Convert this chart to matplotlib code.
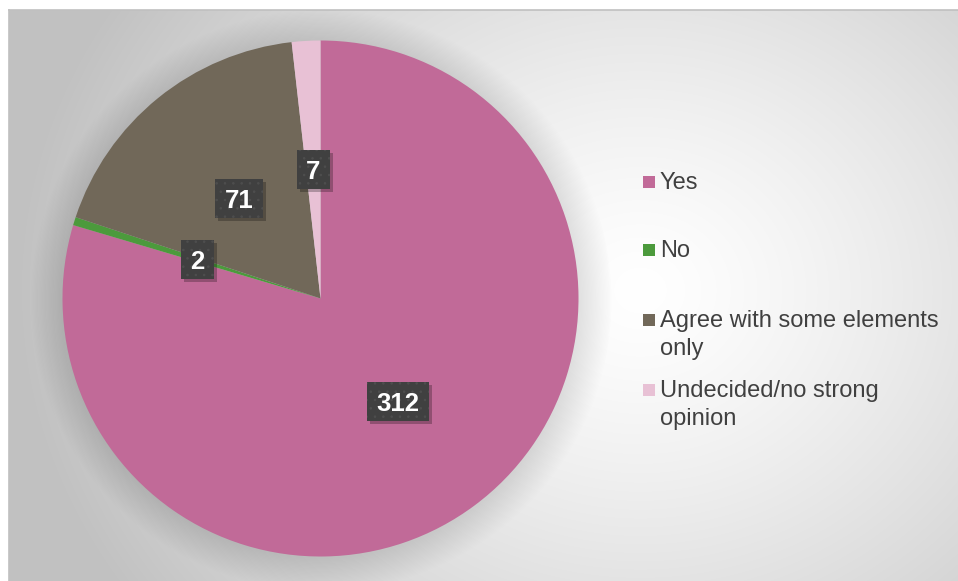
import numpy as np
import matplotlib
matplotlib.use('Agg')
import matplotlib.pyplot as plt
from matplotlib.patches import Circle, Rectangle
from matplotlib.transforms import IdentityTransform

# ── Data ──────────────────────────────────────────────────────────────────────
categories = ['Yes', 'No', 'Agree with some elements\nonly',
              'Undecided/no strong\nopinion']
counts = [312, 2, 71, 7]
colors = ['#c16a98', '#4c9a3c', '#716859', '#e8c1d5']

W, H = 958, 581
dpi = 100
fig = plt.figure(figsize=(W / dpi, H / dpi), dpi=dpi)
fig.patch.set_facecolor('white')

# ── Chart area background: radial grey gradient ──────────────────────────────
x0, y0 = 9, 10            # top-left corner of chart area (px)
bg = fig.add_axes([x0 / W, 0, (W - x0) / W, (H - y0) / H])
gx, gy = np.meshgrid(np.arange(x0, W), np.arange(y0, H))
d = np.hypot(gx - 640, (gy - 290) * 1.15) / 620
shade = 1.0 - 0.24 * np.clip(d, 0, 1) ** 1.3
bg.imshow(np.dstack([shade] * 3), aspect='auto', extent=(0, 1, 0, 1),
          interpolation='bilinear')
bg.set_xlim(0, 1)
bg.set_ylim(0, 1)
bg.set_xticks([])
bg.set_yticks([])
for side, sp in bg.spines.items():
    sp.set_color('#c0c0c0')
    sp.set_linewidth(1.2)
    sp.set_visible(side in ('top', 'left'))

# ── Pie ───────────────────────────────────────────────────────────────────────
cx, cy, r = 320.5, 298.5, 258      # centre and radius (px, from top)
ax = fig.add_axes([(cx - r - 60) / W, (H - cy - r - 60) / H,
                   (2 * r + 120) / W, (2 * r + 120) / H])
lim = (r + 60) / r

# soft outer shadow
for k in range(26):
    ax.add_patch(Circle((0.003, -0.008), 1 + 0.005 * k, facecolor='#7a7a7a',
                        edgecolor='none', alpha=0.008, zorder=0))

wedges, _ = ax.pie(counts, colors=colors, startangle=90, counterclock=False,
                   radius=1, wedgeprops=dict(linewidth=0), frame=True)
ax.set_xlim(-lim, lim)
ax.set_ylim(-lim, lim)
ax.axis('off')

# ── Data labels ───────────────────────────────────────────────────────────────
plt.rcParams['hatch.linewidth'] = 0.6
labels = []
for w, n in zip(wedges, counts):
    ang = np.deg2rad((w.theta1 + w.theta2) / 2)
    lx, ly = 0.5 * np.cos(ang), 0.5 * np.sin(ang)
    t = ax.text(lx, ly, str(n), fontsize=18.5, fontweight='bold',
                color='white', ha='center', va='center_baseline',
                family='Liberation Sans', zorder=6)
    labels.append((t, lx, ly))

# dark boxes (with drop shadow) sized from the rendered label text
fig.canvas.draw()
renderer = fig.canvas.get_renderer()
box_h = 39
for t, lx, ly in labels:
    ext = t.get_window_extent(renderer)
    px, py = ax.transData.transform((lx, ly))
    bw = ext.width + 19
    ax.add_patch(Rectangle((px - bw / 2 + 3, py - box_h / 2 - 3), bw, box_h,
                           transform=IdentityTransform(), facecolor='black',
                           alpha=0.25, edgecolor='none', zorder=4))
    ax.add_patch(Rectangle((px - bw / 2, py - box_h / 2), bw, box_h,
                           transform=IdentityTransform(), facecolor='#404040',
                           edgecolor='#4e4e4e', linewidth=0, hatch='..',
                           zorder=5))

# ── Legend ────────────────────────────────────────────────────────────────────
legend_y = [182, 250, 320, 390]
for lab, col, yy in zip(categories, colors, legend_y):
    fig.patches.append(Rectangle((643 / W, 1 - (yy + 6) / H), 12 / W, 12 / H,
                                 transform=fig.transFigure, facecolor=col,
                                 edgecolor='none', zorder=3))
    fig.text(660 / W, 1 - (yy - 10) / H, lab, fontsize=17,
             family='Liberation Sans', color='#404040', va='top', ha='left',
             linespacing=1.38)

fig.savefig('out.png', dpi=dpi)
